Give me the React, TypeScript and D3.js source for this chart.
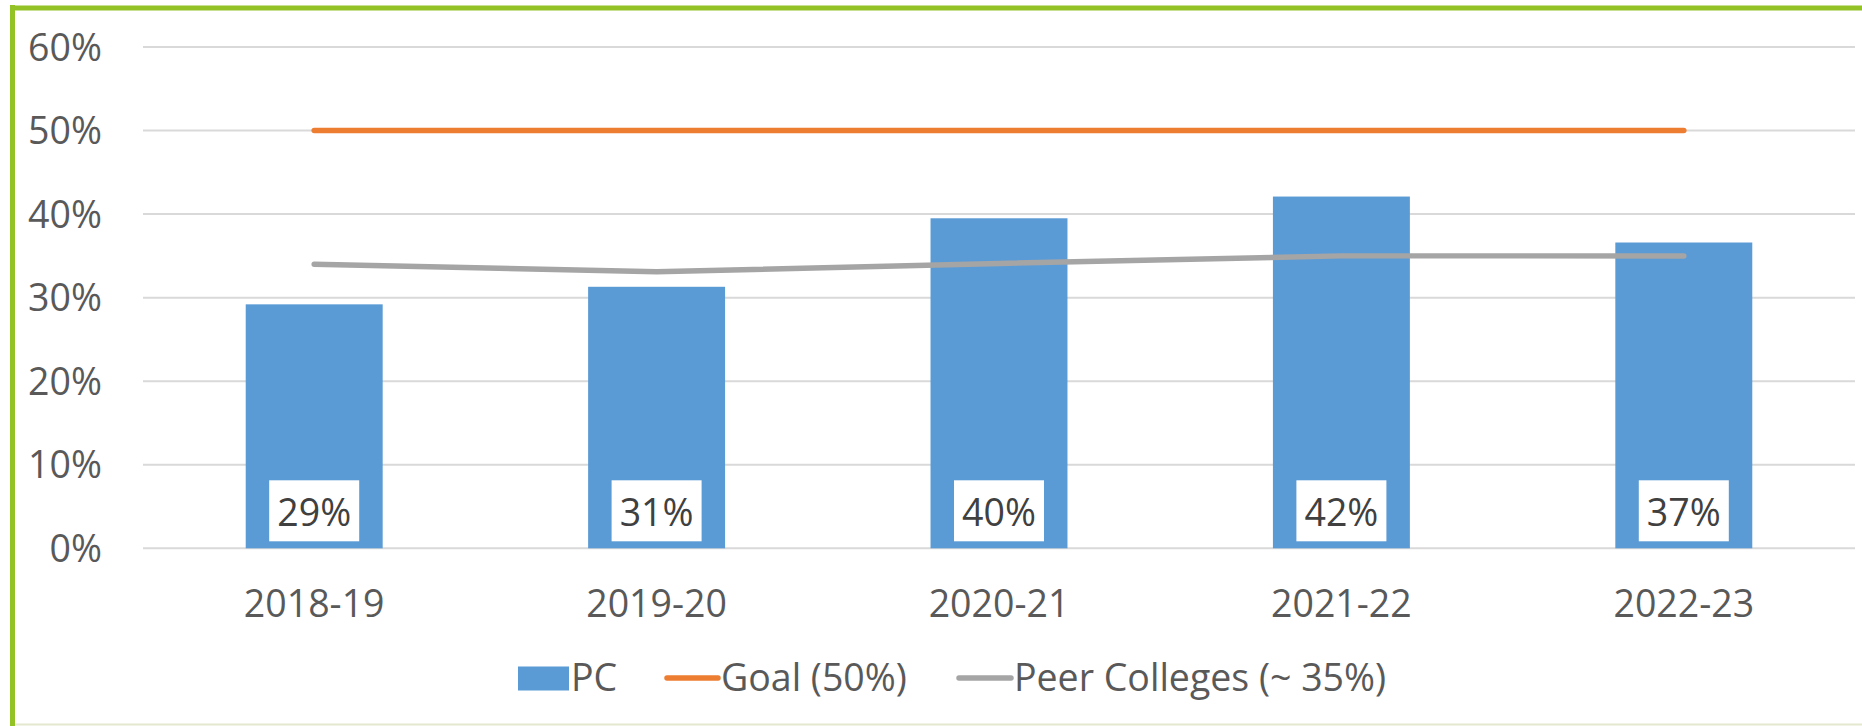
import React from "react";
import * as d3 from "d3";

const years = ["2018-19", "2019-20", "2020-21", "2021-22", "2022-23"];
const pcValues = [0.292, 0.313, 0.395, 0.421, 0.366];
const pcLabels = ["29%", "31%", "40%", "42%", "37%"];
const goalValues = [0.5, 0.5, 0.5, 0.5, 0.5];
const peerValues = [0.34, 0.331, 0.341, 0.35, 0.35];
const yTicks = [0, 0.1, 0.2, 0.3, 0.4, 0.5, 0.6];
const legendNames = ["PC", "Goal (50%)", "Peer Colleges (~ 35%)"];

const W = 1862;
const H = 726;
const FONT = "'Open Sans', 'Noto Sans', sans-serif";
const TEXT = "#595959";

export default function App() {
  const x = d3.scaleBand<string>().domain(years).range([143, 1855]).paddingInner(0.6).paddingOuter(0.3);
  const y = d3.scaleLinear().domain([0, 0.6]).range([548.3, 47]);
  const cx = (d: string) => (x(d) ?? 0) + x.bandwidth() / 2;

  const line = d3
    .line<number>()
    .x((_, i) => cx(years[i]))
    .y(v => y(v));

  return (
    <svg width={W} height={H} style={{ position: "absolute", left: 0, top: 0 }} fontFamily={FONT}>
      <rect x={0} y={0} width={W} height={H} fill="white" />
      {/* frame */}
      <line x1={12.5} y1={724.5} x2={W} y2={724.5} stroke="#e4e8cf" strokeWidth={2} />
      <line x1={12.5} y1={5} x2={12.5} y2={H} stroke="#92c225" strokeWidth={5} />
      <line x1={10} y1={8} x2={W} y2={8} stroke="#92c225" strokeWidth={5} />

      {/* gridlines + y labels */}
      {yTicks.map(t => (
        <g key={t}>
          <line x1={143} x2={1855} y1={y(t)} y2={y(t)} stroke="#d9d9d9" strokeWidth={2} />
          <text x={102} y={y(t) + 13.5} textAnchor="end" fontSize={37.5} fill={TEXT}>
            {d3.format(".0%")(t)}
          </text>
        </g>
      ))}

      {/* bars */}
      {years.map((d, i) => (
        <rect key={d} x={x(d)} y={y(pcValues[i])} width={x.bandwidth()} height={y(0) - y(pcValues[i])} fill="#5b9bd5" />
      ))}

      {/* lines */}
      <path d={line(goalValues) ?? ""} fill="none" stroke="#ed7d31" strokeWidth={5.5} strokeLinecap="round" />
      <path d={line(peerValues) ?? ""} fill="none" stroke="#a5a5a5" strokeWidth={5.5} strokeLinecap="round" />

      {/* data labels */}
      {years.map((d, i) => (
        <g key={d}>
          <rect x={cx(d) - 45} y={y(0) - 68} width={90} height={61} fill="white" />
          <text x={cx(d)} y={y(0) - 22.5} textAnchor="middle" fontSize={37.5} fill="#404040">
            {pcLabels[i]}
          </text>
        </g>
      ))}

      {/* x labels */}
      {years.map(d => (
        <text key={d} x={cx(d)} y={617} textAnchor="middle" fontSize={37.5} fill={TEXT}>
          {d}
        </text>
      ))}

      {/* legend */}
      <rect x={518} y={666.5} width={51} height={24} fill="#5b9bd5" />
      <text x={571} y={690.5} fontSize={37.5} fill={TEXT}>{legendNames[0]}</text>
      <line x1={667} x2={718} y1={678} y2={678} stroke="#ed7d31" strokeWidth={5.5} strokeLinecap="round" />
      <text x={721} y={690.5} fontSize={37.5} fill={TEXT}>{legendNames[1]}</text>
      <line x1={959} x2={1011} y1={678} y2={678} stroke="#a5a5a5" strokeWidth={5.5} strokeLinecap="round" />
      <text x={1014} y={690.5} fontSize={37.5} fill={TEXT}>{legendNames[2]}</text>
    </svg>
  );
}
